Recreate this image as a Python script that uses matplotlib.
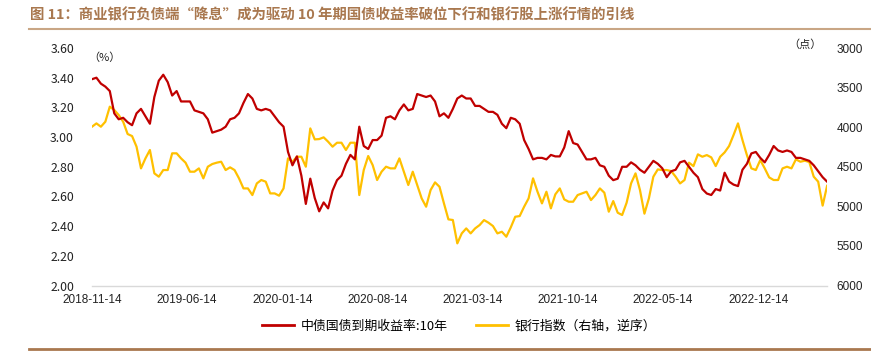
import pandas as pd
import matplotlib.pyplot as plt
from matplotlib.lines import Line2D

plt.rcParams['font.family'] = ['Liberation Sans', 'Noto Sans CJK SC', 'DejaVu Sans']

# Sample dates (about every 10 days) and values
dates = pd.date_range('2018-11-14', '2023-05-17', periods=166)

# 中债国债到期收益率:10年 (%)
yield_10y = [
    3.39, 3.40, 3.36, 3.34, 3.31, 3.16, 3.12, 3.13, 3.10, 3.08,
    3.16, 3.19, 3.14, 3.09, 3.27, 3.38, 3.42, 3.37, 3.28, 3.31,
    3.24, 3.24, 3.24, 3.18, 3.17, 3.16, 3.12, 3.03, 3.04, 3.05,
    3.07, 3.12, 3.13, 3.16, 3.23, 3.29, 3.26, 3.19, 3.18, 3.19,
    3.18, 3.14, 3.10, 3.07, 2.90, 2.81, 2.87, 2.74, 2.55, 2.72,
    2.59, 2.50, 2.56, 2.52, 2.64, 2.71, 2.74, 2.82, 2.88, 2.85,
    3.07, 2.94, 2.92, 2.98, 2.98, 3.01, 3.13, 3.14, 3.12, 3.18,
    3.22, 3.18, 3.19, 3.29, 3.28, 3.27, 3.28, 3.24, 3.14, 3.16,
    3.13, 3.19, 3.26, 3.28, 3.26, 3.26, 3.21, 3.21, 3.19, 3.17,
    3.17, 3.15, 3.09, 3.06, 3.13, 3.12, 3.09, 2.98, 2.92, 2.85,
    2.86, 2.86, 2.85, 2.88, 2.87, 2.87, 2.93, 3.04, 2.96, 2.95,
    2.90, 2.85, 2.85, 2.86, 2.81, 2.80, 2.74, 2.71, 2.72, 2.80,
    2.80, 2.83, 2.81, 2.78, 2.76, 2.80, 2.84, 2.82, 2.79, 2.73,
    2.77, 2.78, 2.83, 2.84, 2.80, 2.76, 2.73, 2.65, 2.62, 2.61,
    2.65, 2.64, 2.76, 2.70, 2.68, 2.67, 2.78, 2.82, 2.89, 2.90,
    2.86, 2.83, 2.88, 2.94, 2.91, 2.90, 2.91, 2.90, 2.86, 2.86,
    2.85, 2.84, 2.81, 2.77, 2.73, 2.70,
]

# 银行指数 (right axis, reversed)
bank_index = [
    3994, 3952, 3994, 3931, 3741, 3783, 3846, 3931, 4086, 4112,
    4246, 4520, 4394, 4288, 4583, 4625, 4541, 4541, 4330, 4330,
    4394, 4448, 4562, 4562, 4520, 4646, 4499, 4465, 4448, 4436,
    4541, 4507, 4541, 4646, 4773, 4773, 4857, 4710, 4667, 4688,
    4836, 4836, 4865, 4773, 4394, 4436, 4373, 4373, 4499, 4015,
    4154, 4150, 4128, 4183, 4246, 4196, 4196, 4288, 4196, 4196,
    4857, 4541, 4364, 4478, 4667, 4562, 4499, 4520, 4520, 4394,
    4562, 4730, 4562, 4730, 4899, 5004, 4794, 4697, 4752, 4962,
    5164, 5172, 5467, 5341, 5278, 5341, 5278, 5236, 5173, 5206,
    5248, 5341, 5320, 5383, 5265, 5131, 5122, 5004, 4899, 4646,
    4815, 4962, 4815, 5025, 4848, 4773, 4912, 4941, 4941, 4857,
    4836, 4815, 4920, 4857, 4773, 4827, 5067, 4933, 5080, 5109,
    4954, 4710, 4583, 4794, 5092, 4899, 4625, 4533, 4541, 4541,
    4554, 4625, 4710, 4667, 4448, 4491, 4343, 4373, 4352, 4381,
    4491, 4373, 4318, 4238, 4099, 3952, 4162, 4352, 4520, 4541,
    4415, 4520, 4634, 4667, 4667, 4520, 4499, 4520, 4406, 4436,
    4423, 4440, 4625, 4688, 4990, 4740,
]

tick_dates = ['2018-11-14', '2019-06-14', '2020-01-14', '2020-08-14',
              '2021-03-14', '2021-10-14', '2022-05-14', '2022-12-14']

red = '#C00000'
gold = '#FFC000'
brown = '#A9784F'

fig = plt.figure(figsize=(8.71, 3.53), dpi=100)
ax = fig.add_axes([0.1056, 0.191, 0.844, 0.673])
ax2 = ax.twinx()

ax2.plot(dates, bank_index, color=gold, lw=1.6, zorder=2)
ax.plot(dates, yield_10y, color=red, lw=1.6, zorder=3)
ax.set_zorder(ax2.get_zorder() + 1)
ax.patch.set_visible(False)

ax.set_xlim(pd.Timestamp('2018-11-14'), pd.Timestamp('2023-05-17'))
ax.set_ylim(2.0, 3.6)
ax2.set_ylim(6000, 3000)

ax.set_yticks([2.0, 2.2, 2.4, 2.6, 2.8, 3.0, 3.2, 3.4, 3.6])
ax.set_yticklabels(['%.2f' % v for v in ax.get_yticks()],
                   family=['Noto Sans CJK SC'], fontsize=8.8, color='#222222')
ax2.set_yticks([3000, 3500, 4000, 4500, 5000, 5500, 6000])
ax2.set_yticklabels([str(v) for v in ax2.get_yticks()], fontsize=8.5, color='#222222')

ax.set_xticks(pd.to_datetime(tick_dates))
ax.set_xticklabels(tick_dates, fontsize=8.5, color='#222222')

ax.tick_params(axis='y', length=0, pad=13)
ax.tick_params(axis='x', length=0, pad=6)
ax2.tick_params(axis='y', length=0, pad=7)

for a in (ax, ax2):
    for s in a.spines.values():
        s.set_visible(False)
ax.spines['bottom'].set_visible(True)
ax.spines['bottom'].set_color('#D9D9D9')
ax.spines['bottom'].set_linewidth(1.0)

# unit labels
fig.text(88 / 871, 1 - 58 / 353, '（%）', fontsize=8, family=['Noto Sans CJK SC'],
         ha='left', va='center', color='#222222')
fig.text(822 / 871, 1 - 45 / 353, '（点）', fontsize=8, family=['Noto Sans CJK SC'],
         ha='right', va='center', color='#222222')

# title and frame lines
fig.text(30 / 871, 1 - 15 / 353,
         '图 11：商业银行负债端“降息”成为驱动 10 年期国债收益率破位下行和银行股上涨行情的引线',
         fontsize=10.4, fontweight='bold', family=['Noto Sans CJK SC'],
         color=brown, ha='left', va='center')
fig.add_artist(Line2D([29 / 871, 1.0], [1 - 29 / 353] * 2, color='#C9A685', lw=1.5))
fig.add_artist(Line2D([29 / 871, 1.0], [1 - 349 / 353] * 2, color=brown, lw=2))

# legend
handles = [Line2D([], [], color=red, lw=2), Line2D([], [], color=gold, lw=2)]
fig.legend(handles, ['中债国债到期收益率:10年', '银行指数（右轴，逆序）'],
           loc='center', bbox_to_anchor=(459 / 871, 1 - 326 / 353), ncol=2,
           frameon=False, handlelength=2.5, columnspacing=2.2, handletextpad=0.5,
           prop={'family': ['Noto Sans CJK SC'], 'size': 9.3})

plt.savefig('out.png', dpi=100)
